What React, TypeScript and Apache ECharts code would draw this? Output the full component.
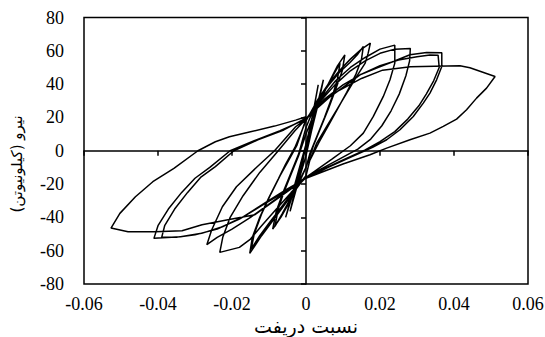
import React, { useEffect, useRef } from "react";
import * as echarts from "echarts";

type P = [number, number];

const xTitle = "نسبت دریفت";
const yTitle = "نیرو (کیلونیوتن)\u200F";

const xMin = -0.06;
const xMax = 0.06;
const xStep = 0.02;
const yMin = -80;
const yMax = 80;
const yStep = 20;

// small elastic cycles
const loop1: P[] = [
  [0, 0], [0.002, 18], [0.0047, 42.6], [0.0035, 30], [0.0015, 12], [0, -3],
  [-0.002, -18], [-0.0043, -36.4], [-0.003, -24], [-0.001, -8], [0, 4],
  [0.0015, 18], [0.0033, 39.6], [0.0022, 26], [0.0005, 8], [-0.001, -6],
  [-0.003, -22], [-0.0055, -40], [-0.004, -28], [-0.002, -12], [0, 4],
];

const loop2a: P[] = [
  [0.003, 26], [0.006, 40], [0.0085, 51], [0.0105, 57.6], [0.0098, 48], [0.0082, 38],
  [0.0062, 26], [0.004, 14], [0.002, 3], [0, -10], [-0.002, -20], [-0.0045, -30],
  [-0.0065, -38], [-0.0084, -45.4], [-0.0075, -35], [-0.006, -25], [-0.004, -14],
  [-0.002, -3], [0, 10],
];

const loop2b: P[] = [
  [0.003, 27], [0.006, 40], [0.0092, 52.6], [0.0085, 43], [0.007, 32], [0.005, 20],
  [0.003, 9], [0.001, -2], [0, -10], [-0.002, -19], [-0.0045, -31], [-0.0068, -40],
  [-0.009, -47], [-0.008, -36], [-0.0062, -25], [-0.004, -13], [-0.002, -2], [0, 14],
];

const loop3a: P[] = [
  [0.003, 30], [0.006, 40], [0.009, 48], [0.012, 55], [0.015, 61], [0.0174, 64.6],
  [0.0168, 58.6], [0.016, 52.6], [0.0137, 44.6], [0.011, 34.6], [0.0083, 24.6],
  [0.0056, 14.6], [0.0029, 4.6], [0.001, -6], [0, -15], [-0.003, -24], [-0.006, -33],
  [-0.009, -42], [-0.012, -51], [-0.0152, -61.6], [-0.0145, -52], [-0.0125, -40],
  [-0.01, -28], [-0.0075, -17], [-0.0055, -8], [-0.003, 2], [0, 18],
];

const loop3b: P[] = [
  [0.003, 30], [0.006, 39], [0.009, 47], [0.0119, 53], [0.014, 58], [0.0155, 62.6],
  [0.015, 55], [0.0135, 46], [0.011, 35], [0.0085, 25], [0.006, 15], [0.0035, 5],
  [0.001, -6], [0, -15], [-0.003, -23], [-0.006, -32], [-0.0095, -42], [-0.0125, -51],
  [-0.0148, -59], [-0.014, -50], [-0.012, -38], [-0.0095, -26], [-0.007, -15],
  [-0.0045, -5], [-0.0025, 3], [0, 19],
];

const loop4a: P[] = [
  [0.004, 30], [0.008, 40], [0.012, 48], [0.016, 54], [0.02, 58.5], [0.024, 61], [0.0282, 61.4],
  [0.028, 54], [0.027, 45], [0.0252, 34], [0.023, 24], [0.0205, 15], [0.0175, 7], [0.014, 1],
  [0.009, -5], [0.004, -11], [0, -16],
  [-0.005, -24], [-0.01, -32], [-0.015, -40], [-0.02, -47], [-0.024, -52], [-0.0268, -56.4],
  [-0.0255, -47.6], [-0.0226, -33.6], [-0.0188, -21.6], [-0.0132, -9.6], [-0.0085, 0],
  [-0.0028, 14.4], [0, 19],
];

const loop4b: P[] = [
  [0.004, 31], [0.008, 42], [0.012, 50], [0.016, 56], [0.02, 61], [0.024, 63.4],
  [0.024, 52.6], [0.0227, 42.6], [0.0209, 32.6], [0.0182, 20.6], [0.0155, 10.6], [0.012, 3],
  [0.007, -5], [0, -16],
  [-0.004, -25], [-0.008, -35], [-0.012, -45], [-0.015, -53], [-0.018, -58], [-0.0233, -61],
  [-0.0225, -52], [-0.0205, -40], [-0.017, -27], [-0.0125, -13], [-0.0075, 0], [-0.003, 12], [0, 19],
];

const loop5a: P[] = [
  [0.005, 30], [0.01, 38], [0.0146, 45.6], [0.0191, 49.6], [0.0236, 53.6], [0.0281, 57.6],
  [0.0326, 59], [0.0367, 58.8],
  [0.0367, 50.6], [0.0353, 42.6], [0.0335, 34.6], [0.0317, 28.6], [0.029, 20.6], [0.0254, 12.6],
  [0.0218, 6.6], [0.018, 2], [0.012, -4], [0.006, -10], [0, -16.5],
  [-0.0056, -23.6], [-0.0113, -31.6], [-0.0169, -39.6], [-0.0226, -45.6], [-0.0282, -49.6],
  [-0.0339, -51.6], [-0.0411, -52.6],
  [-0.04, -45], [-0.0372, -35], [-0.0336, -25], [-0.03, -16.5], [-0.026, -10], [-0.0205, 0],
  [-0.014, 6], [-0.007, 12], [0, 19],
];

const loop5b: P[] = [
  [0.005, 31], [0.01, 39.5], [0.015, 46], [0.02, 51], [0.025, 54.5], [0.03, 56.5],
  [0.0335, 57.5], [0.0357, 57.4],
  [0.036, 50], [0.0345, 42], [0.0325, 34], [0.0305, 27], [0.0275, 19], [0.024, 11.5],
  [0.02, 5.5], [0.016, 0.5], [0.01, -5.5], [0, -16],
  [-0.006, -25], [-0.012, -33], [-0.018, -41], [-0.024, -47], [-0.03, -50.5], [-0.035, -52],
  [-0.039, -52],
  [-0.0382, -45], [-0.0355, -35], [-0.032, -25], [-0.0285, -16], [-0.0245, -9.5], [-0.0195, 0],
  [-0.013, 6.5], [-0.006, 12.5], [0, 19.5],
];

const loop6: P[] = [
  [0.0075, 34.4], [0.015, 43.4], [0.0207, 48.4], [0.0282, 50.4], [0.0348, 50.8], [0.0416, 51],
  [0.0443, 49.8], [0.0511, 44.6],
  [0.0488, 37.6], [0.0461, 31.6], [0.0434, 24.6], [0.0407, 19], [0.0371, 14.6], [0.0335, 10.6],
  [0.0281, 6.6], [0.0218, 1.6], [0.0173, -2.4], [0.01, -8], [0, -16.5],
  [-0.006, -26], [-0.0138, -38.4], [-0.0211, -41.4], [-0.0281, -44.4], [-0.0335, -48],
  [-0.0408, -48.6], [-0.0481, -48.6], [-0.0527, -46.4],
  [-0.0503, -37.6], [-0.0461, -27.6], [-0.0414, -18.6], [-0.0357, -10.6], [-0.0292, 0],
  [-0.0245, 5.4], [-0.0207, 8.4], [-0.015, 11.4], [-0.0085, 14.8], [-0.0028, 18.4], [0, 20.4],
];

const serif = "Liberation Serif, Times New Roman, serif";
const arabicFont = "DejaVu Sans, Liberation Serif, serif";

export default function App() {
  const ref = useRef<HTMLDivElement>(null);

  useEffect(() => {
    if (!ref.current) return;
    const chart = echarts.init(ref.current, null, { renderer: "svg" });
    const path: P[] = [
      ...loop1, ...loop2a, ...loop2b, ...loop3a, ...loop3b,
      ...loop4a, ...loop4b, ...loop5a, ...loop5b, ...loop6,
    ];
    const fmtX = (v: number) => (Math.abs(v) < 1e-9 ? "0" : v.toFixed(2));
    const labelStyle = { color: "#000", fontFamily: serif, fontSize: 18 };
    chart.setOption({
      animation: false,
      backgroundColor: "#fff",
      grid: {
        left: 84, right: 17, top: 17.5, bottom: 53,
        show: true, borderColor: "#000", borderWidth: 1.5,
        outerBoundsMode: "none",
      },
      xAxis: [
        {
          type: "value", min: xMin, max: xMax, interval: xStep, position: "bottom",
          axisLine: { show: false, onZero: false },
          axisTick: { show: false },
          splitLine: { show: false },
          axisLabel: { ...labelStyle, margin: 11, formatter: fmtX },
        },
        {
          type: "value", min: xMin, max: xMax, interval: xStep, position: "top",
          axisLine: { show: true, onZero: true, onZeroAxisIndex: 0, lineStyle: { color: "#000", width: 1.5 } },
          axisTick: { show: true, inside: true, length: 5, lineStyle: { color: "#000", width: 1.5 } },
          splitLine: { show: false },
          axisLabel: { show: false },
        },
      ],
      yAxis: [
        {
          type: "value", min: yMin, max: yMax, interval: yStep, position: "left",
          axisLine: { show: false, onZero: false },
          axisTick: { show: false },
          splitLine: { show: false },
          axisLabel: { ...labelStyle, margin: 20 },
        },
        {
          type: "value", min: yMin, max: yMax, interval: yStep, position: "right",
          axisLine: { show: true, onZero: true, onZeroAxisIndex: 0, lineStyle: { color: "#000", width: 1.5 } },
          axisTick: { show: true, inside: true, length: 5, lineStyle: { color: "#000", width: 1.5 } },
          splitLine: { show: false },
          axisLabel: { show: false },
        },
      ],
      series: [
        {
          type: "line",
          xAxisIndex: 0,
          yAxisIndex: 0,
          data: path,
          showSymbol: false,
          symbol: "none",
          lineStyle: { color: "#000", width: 1.5 },
          z: 1,
        },
      ],
      graphic: [
        {
          type: "text", x: 306, y: 326,
          style: {
            text: xTitle, fill: "#000", fontSize: 19, fontFamily: arabicFont,
            align: "center", verticalAlign: "middle", textAlign: "center", textVerticalAlign: "middle",
          },
        },
        {
          type: "text", x: 17, y: 164, rotation: Math.PI / 2,
          style: {
            text: yTitle, fill: "#000", fontSize: 15, fontFamily: arabicFont,
            align: "center", verticalAlign: "middle", textAlign: "center", textVerticalAlign: "middle",
          },
        },
      ],
    });
    return () => chart.dispose();
  }, []);

  return (
    <div
      ref={ref}
      style={{ position: "fixed", left: 0, top: 0, width: 545, height: 337, background: "#fff" }}
    />
  );
}
